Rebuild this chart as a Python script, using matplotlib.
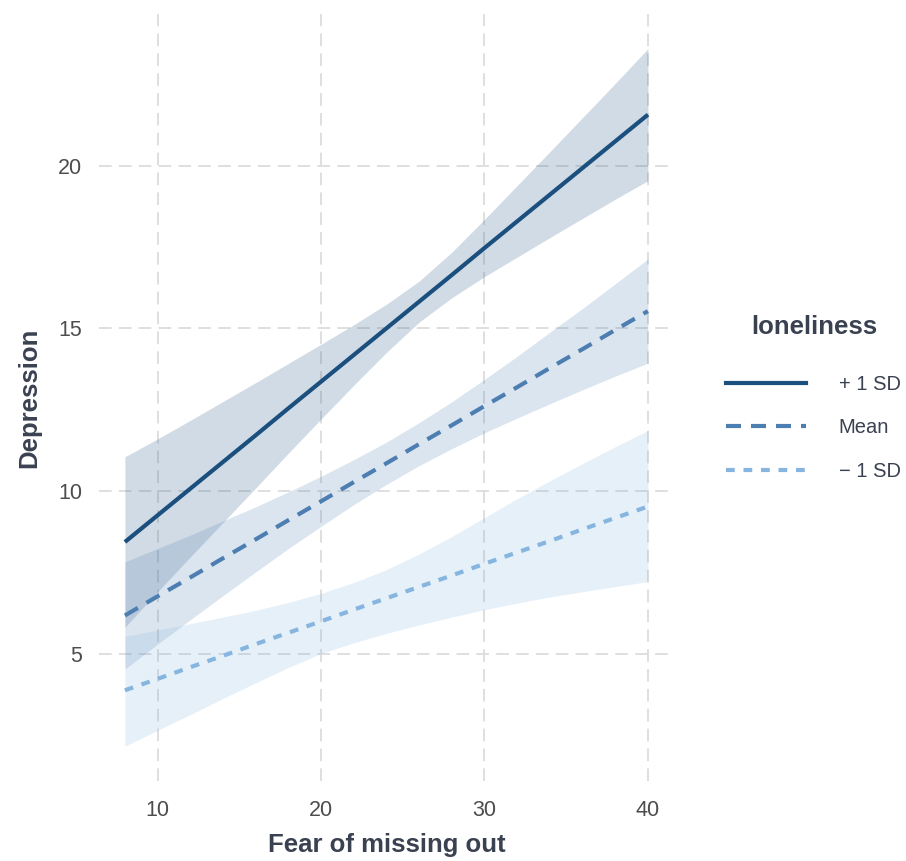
import matplotlib.pyplot as plt
from matplotlib.lines import Line2D

plt.rcParams['font.family'] = ['Liberation Sans', 'DejaVu Sans']

# predicted depression by fear of missing out, at three loneliness levels
fomo = [8, 10, 12, 14, 16, 18, 20, 22, 24, 26, 28, 30, 32, 34, 36, 38, 40]

hi_fit = [8.43, 9.25, 10.07, 10.89, 11.71, 12.54, 13.36, 14.18, 15.00,
          15.82, 16.64, 17.47, 18.29, 19.11, 19.93, 20.75, 21.57]
hi_low = [5.81, 6.90, 7.97, 9.03, 10.09, 11.16, 12.21, 13.25, 14.26,
          15.19, 15.94, 16.59, 17.19, 17.79, 18.38, 18.97, 19.54]
hi_upp = [11.05, 11.60, 12.17, 12.75, 13.33, 13.92, 14.51, 15.11, 15.74,
          16.45, 17.34, 18.35, 19.39, 20.43, 21.48, 22.53, 23.60]

mid_fit = [6.17, 6.76, 7.34, 7.93, 8.51, 9.10, 9.68, 10.27, 10.85,
           11.44, 12.02, 12.61, 13.19, 13.78, 14.36, 14.95, 15.53]
mid_low = [4.52, 5.29, 6.04, 6.78, 7.51, 8.23, 8.91, 9.58, 10.20,
           10.78, 11.30, 11.79, 12.24, 12.68, 13.11, 13.53, 13.93]
mid_upp = [7.82, 8.23, 8.64, 9.08, 9.51, 9.97, 10.45, 10.96, 11.50,
           12.10, 12.74, 13.43, 14.14, 14.88, 15.61, 16.37, 17.13]

lo_fit = [3.87, 4.22, 4.58, 4.93, 5.29, 5.64, 5.99, 6.35, 6.70,
          7.05, 7.40, 7.76, 8.11, 8.46, 8.82, 9.17, 9.52]
lo_low = [2.15, 2.64, 3.12, 3.62, 4.10, 4.57, 5.00, 5.33, 5.62,
          5.88, 6.12, 6.35, 6.55, 6.74, 6.90, 7.06, 7.21]
lo_upp = [5.53, 5.72, 5.92, 6.12, 6.33, 6.57, 6.85, 7.18, 7.58,
          8.06, 8.60, 9.18, 9.76, 10.31, 10.84, 11.36, 11.86]

labels = ['+ 1 SD', 'Mean', '\u2212 1 SD']
colors = ['#1b4f7e', '#4d7eb2', '#86b5df']
txt = '#3a4150'

fig = plt.figure(figsize=(9.06, 8.61), dpi=100)
ax = fig.add_axes([0.109, 0.0929, 0.635, 0.891])

series = [(hi_fit, hi_low, hi_upp), (mid_fit, mid_low, mid_upp), (lo_fit, lo_low, lo_upp)]
for (fit, low, upp), c in zip(series, colors):
    ax.fill_between(fomo, low, upp, color=c, alpha=0.2, linewidth=0)

styles = ['-', (0, (3.6, 2.4)), (0, (2.1, 2.1))]
handles = []
for (fit, low, upp), c, ls, lab in zip(series, colors, styles, labels):
    ax.plot(fomo, fit, color=c, lw=3.0, linestyle=ls, solid_capstyle='butt', dash_capstyle='butt')
    handles.append(Line2D([], [], color=c, lw=3.0, linestyle=ls, label=lab))

ax.set_xlim(6.4, 41.6)
ax.set_ylim(1.08, 24.67)
ax.set_xticks([10, 20, 30, 40])
ax.set_yticks([5, 10, 15, 20])

ax.grid(True, color='#dcdcdc', linestyle=(0, (7, 4)), lw=1.3)
ax.set_axisbelow(True)
for s in ax.spines.values():
    s.set_visible(False)
ax.tick_params(length=0, labelsize=15.5, labelcolor='#4d4d4d')
ax.tick_params(axis='x', pad=14)
ax.tick_params(axis='y', pad=12)

ax.set_xlabel('Fear of missing out', fontsize=18.5, fontweight='bold', color=txt, labelpad=8)
ax.set_ylabel('Depression', fontsize=18.5, fontweight='bold', color=txt, labelpad=12)

leg = fig.legend(handles=handles, loc='center left', bbox_to_anchor=(0.790, 0.503),
                 frameon=False, fontsize=14.5, handlelength=4.0, handletextpad=1.6,
                 labelspacing=1.2, borderpad=0)
for t in leg.get_texts():
    t.set_color(txt)
fig.text(0.899, 1 - 327 / 861, 'loneliness', ha='center', va='center',
         fontsize=18.5, fontweight='bold', color=txt)

fig.savefig('out.png', dpi=100, facecolor='white')
